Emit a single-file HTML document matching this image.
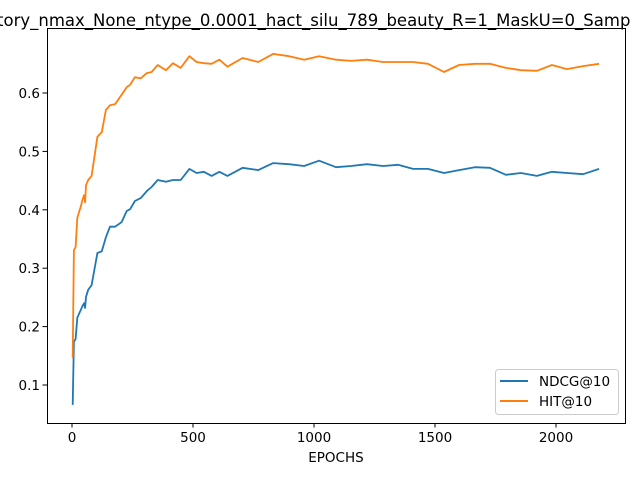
<!DOCTYPE html>
<html><head><meta charset="utf-8"><style>
body{margin:0;background:#fff;}
svg text{font-family:"DejaVu Sans","Liberation Sans",sans-serif;fill:#000;}
</style></head><body>
<svg id="chart" width="640" height="480" viewBox="0 0 640 480" xmlns="http://www.w3.org/2000/svg">
<rect width="640" height="480" fill="#fff"/>
<text x="-3" y="26" font-size="16.5">tory_nmax_None_ntype_0.0001_hact_silu_789_beauty_R=1_MaskU=0_Samp</text>
<g id="plot"></g>
<rect x="47.5" y="28.5" width="578" height="395" fill="none" stroke="#000" stroke-width="1"/>
<text x="336" y="462" font-size="13.5" text-anchor="middle">EPOCHS</text>
<g>
<rect x="495.5" y="369.5" width="123" height="45" rx="3" fill="#fff" fill-opacity="0.8" stroke="#ccc"/>
<line x1="500" y1="381" x2="528" y2="381" stroke="#1f77b4" stroke-width="2"/>
<text x="539" y="386" font-size="13.5">NDCG@10</text>
<line x1="500" y1="401" x2="528" y2="401" stroke="#ff7f0e" stroke-width="2"/>
<text x="539" y="406" font-size="13.5">HIT@10</text>
</g>
</svg>
<script>
const epochs=[3,8,15,22,29,36,43,50,54,58,67,81,105,123,140,157,178,205,226,240,260,284,309,329,354,388,417,449,485,515,545,577,609,642,705,770,831,897,959,1021,1091,1153,1219,1285,1347,1409,1471,1537,1599,1665,1727,1793,1855,1921,1983,2045,2112,2178];
const ndcg=[0.066,0.174,0.179,0.215,0.222,0.228,0.235,0.240,0.232,0.251,0.263,0.271,0.326,0.329,0.353,0.371,0.371,0.379,0.398,0.401,0.415,0.420,0.432,0.439,0.451,0.448,0.451,0.451,0.470,0.463,0.465,0.458,0.465,0.458,0.472,0.468,0.480,0.478,0.475,0.484,0.473,0.475,0.478,0.475,0.477,0.470,0.470,0.463,0.468,0.473,0.472,0.460,0.463,0.458,0.465,0.463,0.461,0.470];
const hit=[0.146,0.331,0.336,0.386,0.396,0.405,0.417,0.425,0.413,0.442,0.451,0.458,0.525,0.533,0.571,0.579,0.581,0.597,0.610,0.614,0.627,0.625,0.634,0.636,0.648,0.639,0.651,0.643,0.663,0.653,0.651,0.650,0.657,0.645,0.660,0.653,0.667,0.663,0.657,0.663,0.657,0.655,0.657,0.653,0.653,0.653,0.650,0.636,0.648,0.650,0.650,0.643,0.639,0.638,0.648,0.641,0.646,0.650];
const xTicks=[0,500,1000,1500,2000];
const yTicks=[0.1,0.2,0.3,0.4,0.5,0.6];
const NS='http://www.w3.org/2000/svg';
function xs(v){return 72+v*0.242;}
function ys(v){return 385-(v-0.1)*584;}
const g=document.getElementById('plot');
function mk(t,a){const e=document.createElementNS(NS,t);for(const k in a)e.setAttribute(k,a[k]);g.appendChild(e);return e;}
xTicks.forEach(t=>{
  const l=mk('line',{x1:xs(t),x2:xs(t),y1:423,y2:427.5,stroke:'#000'});
  
  
  const tx=mk('text',{x:xs(t),y:442,'font-size':'13.5','text-anchor':'middle'});
  tx.textContent=t;
  
  
});
yTicks.forEach(t=>{
  const l=mk('line',{x1:42.5,x2:47,y1:ys(t),y2:ys(t),stroke:'#000'});
  
  
  const tx=mk('text',{x:40,y:ys(t)+5,'font-size':'13.5','text-anchor':'end'});
  tx.textContent=t.toFixed(1);
  
  
});
function line(vals,color,name){
  const d=vals.map((v,i)=>(i?'L':'M')+xs(epochs[i]).toFixed(1)+','+ys(v).toFixed(1)).join(' ');
  const p=mk('path',{d:d,fill:'none',stroke:color,'stroke-width':'1.8','stroke-linejoin':'round'});
  
  
}
line(ndcg,'#1f77b4','ndcg-line');
line(hit,'#ff7f0e','hit-line');
</script>
</body></html>
